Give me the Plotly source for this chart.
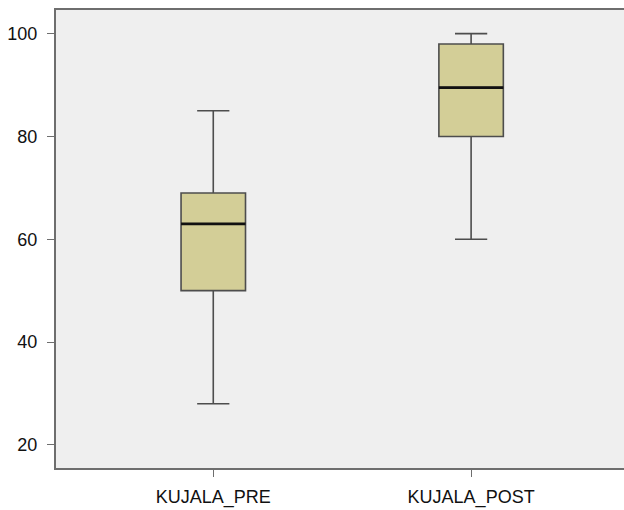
import plotly.graph_objects as go

# Summary statistics for each measurement
categories = ["KUJALA_PRE", "KUJALA_POST"]
lower_whisker = [28, 60]
q1 = [50, 80]
median = [63, 89.5]
q3 = [69, 98]
upper_whisker = [85, 100]

y_ticks = [20, 40, 60, 80, 100]

BOX_W = 0.25
FILL = "#d3ce97"
EDGE = "#4d4d4d"
AXIS = "#6e6e6e"
FONT = "Liberation Sans, Arial, sans-serif"

fig = go.Figure()
for i, name in enumerate(categories):
    fig.add_trace(go.Box(
        x=[i],
        q1=[q1[i]], median=[median[i]], q3=[q3[i]],
        lowerfence=[lower_whisker[i]], upperfence=[upper_whisker[i]],
        width=BOX_W,
        whiskerwidth=0.5,
        fillcolor=FILL,
        line=dict(color=EDGE, width=1.6),
        boxpoints=False,
        name=name,
        showlegend=False,
        hoverinfo="skip",
    ))

# Heavier median bars drawn on top of each box
shapes = []
for i, m in enumerate(median):
    shapes.append(dict(
        type="line", xref="x", yref="y",
        x0=i - BOX_W / 2, x1=i + BOX_W / 2, y0=m, y1=m,
        line=dict(color="#111111", width=2.6),
        layer="above",
    ))

fig.update_layout(
    width=624, height=510,
    margin=dict(l=56, r=0, t=10, b=42),
    paper_bgcolor="white",
    plot_bgcolor="#efefef",
    shapes=shapes,
    font=dict(family=FONT, size=18, color="#111111"),
    xaxis=dict(
        range=[-0.61, 1.593],
        tickvals=list(range(len(categories))),
        ticktext=categories,
        showgrid=False, zeroline=False,
        showline=True, linecolor=AXIS, linewidth=2, mirror=True,
        ticks="outside", ticklen=7, tickwidth=1.2, tickcolor=AXIS,
        tickfont=dict(size=18, family=FONT, color="#111111"),
        ticklabelstandoff=4,
    ),
    yaxis=dict(
        range=[15.5, 104.6],
        tickvals=y_ticks,
        showgrid=False, zeroline=False,
        showline=True, linecolor=AXIS, linewidth=2,
        ticks="outside", ticklen=7, tickwidth=1.2, tickcolor=AXIS,
        tickfont=dict(size=18, family=FONT, color="#111111"),
        ticklabelstandoff=6,
    ),
)

fig.write_html("out.html")
